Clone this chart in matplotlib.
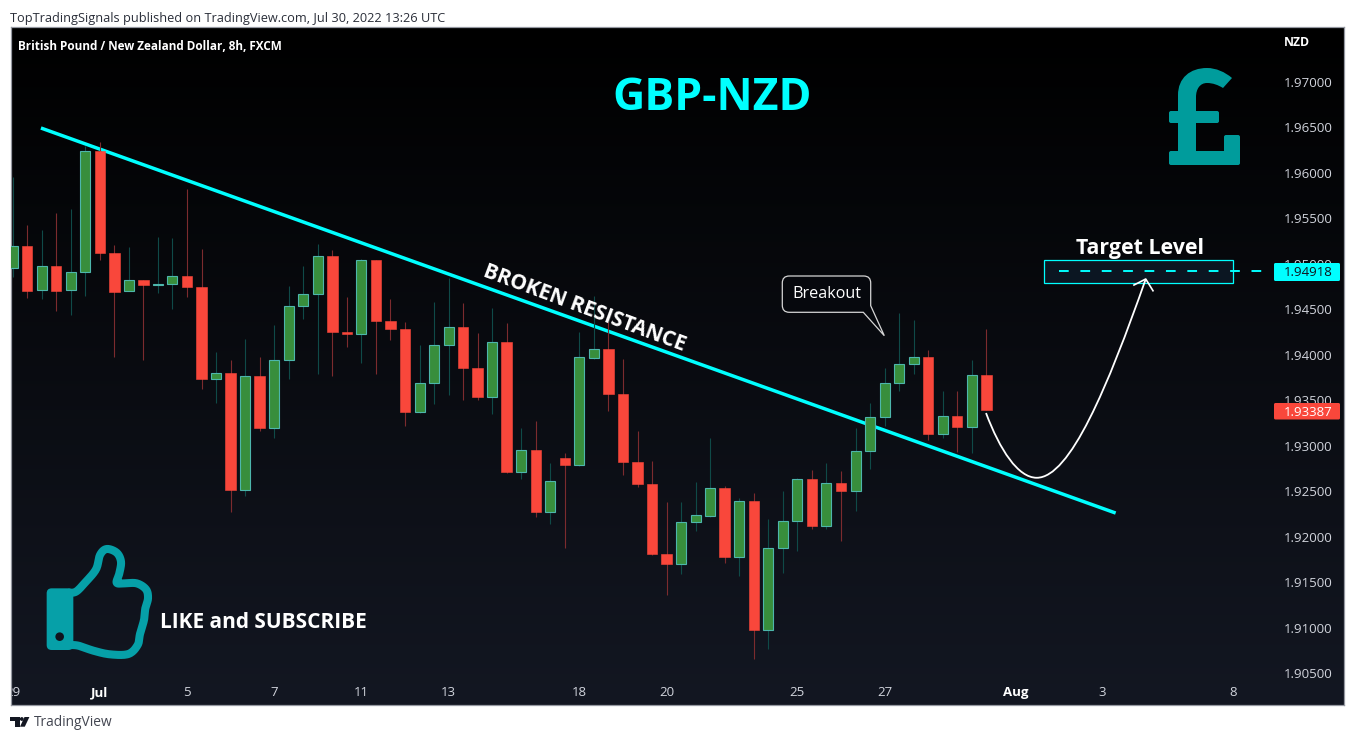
import numpy as np
import matplotlib
matplotlib.use("Agg")
import matplotlib.pyplot as plt
from matplotlib.path import Path
from matplotlib.patches import PathPatch, Rectangle, Circle, FancyBboxPatch
from matplotlib.colors import LinearSegmentedColormap
from matplotlib.transforms import Affine2D

# ---- candle data: GBP/NZD 8h (open, high, low, close) ----
opens = [1.94951,1.95193,1.94709,1.94973,1.94709,1.94907,1.96238,1.95122,1.94698,1.94819,1.94770,1.94775,1.94863,1.94748,
         1.93730,1.93796,1.92509,1.93763,1.93197,1.93939,1.94533,1.94665,1.95083,1.94253,1.94231,1.95039,1.94374,1.94286,
         1.93373,1.93686,1.94104,1.94302,1.93857,1.93538,1.94137,1.92713,1.92949,1.92273,1.92861,1.92790,1.93967,1.94060,
         1.93571,1.92823,1.92581,1.91811,1.91701,1.92157,1.92229,1.92531,1.91778,1.92388,1.90975,1.91871,1.92168,1.92630,
         1.92119,1.92586,1.92504,1.92938,1.93312,1.93686,1.93901,1.93972,1.93131,1.93323,1.93208,1.93774]
closes = [1.95193,1.94704,1.94973,1.94704,1.94907,1.96238,1.95122,1.94693,1.94819,1.94770,1.94778,1.94863,1.94748,1.93730,
          1.93796,1.92509,1.93763,1.93197,1.93939,1.94533,1.94665,1.95083,1.94253,1.94231,1.95039,1.94374,1.94286,1.93373,
          1.93686,1.94104,1.94302,1.93857,1.93538,1.94137,1.92713,1.92949,1.92273,1.92608,1.92790,1.93972,1.94060,1.93571,
          1.92823,1.92581,1.91811,1.91701,1.92157,1.92234,1.92531,1.91778,1.92388,1.90975,1.91871,1.92168,1.92630,1.92119,
          1.92586,1.92504,1.92938,1.93312,1.93686,1.93901,1.93972,1.93131,1.93323,1.93208,1.93774,1.93387]
highs = [1.95958,1.95427,1.95372,1.95559,1.95603,1.96296,1.96340,1.95207,1.95185,1.94825,1.95295,1.95284,1.95823,1.95163,
         1.94030,1.93942,1.94173,1.93975,1.94327,1.94756,1.94976,1.95218,1.95152,1.94635,1.95053,1.95039,1.94613,1.94360,
         1.94107,1.94580,1.94847,1.94569,1.94239,1.94514,1.94349,1.93194,1.93271,1.92809,1.92919,1.94250,1.94646,1.94360,
         1.93953,1.93161,1.92831,1.92380,1.92380,1.92600,1.93084,1.92556,1.92424,1.92479,1.92193,1.92501,1.92644,1.92732,
         1.92809,1.92721,1.93194,1.93469,1.93854,1.94459,1.94382,1.94052,1.93601,1.93601,1.93942,1.94283]
lows = [1.94858,1.94627,1.94613,1.94484,1.94440,1.94649,1.95045,1.93978,1.94698,1.93945,1.94682,1.94506,1.94638,1.93626,
        1.93472,1.92273,1.92449,1.93161,1.93087,1.93736,1.94396,1.93791,1.93769,1.94088,1.93912,1.93791,1.94165,1.93219,
        1.93362,1.93461,1.93560,1.93505,1.93505,1.93351,1.92699,1.92636,1.92218,1.92141,1.91877,1.92779,1.93956,1.93381,
        1.92677,1.92545,1.91797,1.91357,1.91588,1.92064,1.92218,1.91712,1.91569,1.90653,1.90766,1.91602,1.91844,1.92083,
        1.92086,1.91954,1.92284,1.92746,1.93219,1.93604,1.93791,1.93065,1.93087,1.92933,1.92922,1.93387]

y_ticks = [1.905,1.91,1.915,1.92,1.925,1.93,1.935,1.94,1.945,1.95,1.955,1.96,1.965,1.97]
x_tick_bars = [0,6,12,18,24,30,39,45,54,60,69,75,84]
x_tick_labels = ["29","Jul","5","7","11","13","18","20","25","27","Aug","3","8"]

last_close = 1.93387
target_price = 1.94918
trend_bars = [1.95, 75.9]
trend_prices = [1.96494, 1.92259]
target_box_bars = [71.0, 83.97]
target_box_prices = [1.94789, 1.95047]
target_line_bars = [72.0, 86.3]
arrow_bars = [66.98, 67.94, 69.18, 70.47, 72.76, 75.35, 77.97]
arrow_prices = [1.93359, 1.92952, 1.92647, 1.92647, 1.92647, 1.93645, 1.94833]
head_bars = [77.16, 77.97, 78.47]
head_prices = [1.94767, 1.94833, 1.94704]

W, H = 1354, 740
BAR_PX = 14.533
GREEN, GREEN_EDGE, GREEN_WICK = "#388e3c", "#4db6ac", "#0f4a48"
RED, RED_WICK = "#f9473b", "#7c2b2e"
CYAN = "#00ffff"
TEAL = "#009c9c"
TICK = "#d1d4dc"
FONT = "Open Sans"

plt.rcParams["font.family"] = [FONT, "DejaVu Sans"]
fig = plt.figure(figsize=(W/100, H/100), dpi=100, facecolor="white")
L, R, T, B = 11, 1344, 27, 705
ax = fig.add_axes([L/W, 1-B/H, (R-L)/W, (B-T)/H])

px = Affine2D().scale(1/W, -1/H).translate(0, 1) + fig.transFigure

def ptext(x, y, s, **kw):
    kw.setdefault("va", "center")
    return fig.text(x/W, 1-y/H, s, **kw)

# background gradient
cmap = LinearSegmentedColormap.from_list("bg", ["#000000", "#131722"])
ax.imshow(np.linspace(0, 1, 256).reshape(-1, 1), cmap=cmap, aspect="auto",
          extent=(0, 1, 0, 1), transform=ax.transAxes, zorder=0)
ax.set_xlim((L-12.6)/BAR_PX, (R-12.6)/BAR_PX)
ax.set_ylim(1.97-(B-82)/9092, 1.97+(82-T)/9092)

# trend line behind candles
ax.plot(trend_bars, trend_prices, color=CYAN, lw=2.5, solid_capstyle="butt", zorder=2)

o, c, h, l = map(np.array, (opens, closes, highs, lows))
xs = np.arange(len(o))
up = c >= o
ax.vlines(xs[up], l[up], h[up], color=GREEN_WICK, lw=0.8, zorder=3)
ax.vlines(xs[~up], l[~up], h[~up], color=RED_WICK, lw=0.8, zorder=3)
ax.bar(xs[up], (c-o)[up], bottom=o[up], width=0.69, color=GREEN, edgecolor=GREEN_EDGE, linewidth=0.8, zorder=4)
ax.bar(xs[~up], (c-o)[~up], bottom=o[~up], width=0.72, color=RED, edgecolor=RED, linewidth=0.4, zorder=4)

# target box
ax.add_patch(Rectangle((target_box_bars[0], target_box_prices[0]),
                       target_box_bars[1]-target_box_bars[0], target_box_prices[1]-target_box_prices[0],
                       facecolor="#0b1622", edgecolor=CYAN, lw=0.9, zorder=5))
ax.plot(target_line_bars, [target_price]*2, color=CYAN, lw=1.4, dashes=(5, 6.0), zorder=6)

# curved arrow
verts = list(zip(arrow_bars, arrow_prices))
ax.add_patch(PathPatch(Path(verts, [Path.MOVETO]+[Path.CURVE4]*6), facecolor="none", edgecolor="white", lw=1.3, zorder=6))
ax.plot(head_bars, head_prices, color="white", lw=1.2, zorder=7)

# axes
ax.set_yticks(y_ticks, [f"{v:.5f}" for v in y_ticks])
ax.yaxis.tick_right()
ax.tick_params(axis="y", length=0, pad=-8, labelsize=9.5, labelcolor=TICK)
for t in ax.yaxis.get_major_ticks():
    t.label2.set_ha("right")
ax.set_xticks(x_tick_bars, x_tick_labels)
ax.tick_params(axis="x", length=0, pad=-13.6, labelsize=9.5, labelcolor=TICK)
for lab in ax.get_xticklabels():
    lab.set_clip_on(True)
    lab.set_clip_box(ax.bbox)
    if lab.get_text() in ("Jul", "Aug"):
        lab.set_fontweight("bold")
        lab.set_color("white")
for s in ax.spines.values():
    s.set_color("#9598a1")
    s.set_linewidth(0.9)

# price labels on the scale
for y0, y1, col in [(263, 281, CYAN), (403, 419.5, RED)]:
    fig.add_artist(FancyBboxPatch((1274, y0), 66, y1-y0, boxstyle="round,pad=0,rounding_size=1.5",
                                  transform=px, facecolor=col, edgecolor="none", zorder=6))
ptext(1333, 273, f"{target_price:.5f}", ha="right", color="#10131d", fontsize=9.5, zorder=7)
ptext(1333, 412, f"{last_close:.5f}", ha="right", color="white", fontsize=9.5, zorder=7)

# texts
ptext(10, 18.3, "TopTradingSignals published on TradingView.com, Jul 30, 2022 13:26 UTC", color="#2a2e39", fontsize=9.15)
ptext(18, 46.5, "British Pound / New Zealand Dollar, 8h, FXCM", color="white", fontsize=8.45, fontweight="bold")
ptext(1284, 42.5, "NZD", color="white", fontsize=8.8, fontweight="bold")
ptext(712, 99, "GBP-NZD", color=CYAN, fontsize=32, fontweight="bold", ha="center")
ptext(1140, 248.5, "Target Level", color="white", fontsize=15.4, fontweight="bold", ha="center")
ptext(263, 623, "LIKE and SUBSCRIBE", color="white", fontsize=15, fontweight="bold", ha="center")
ptext(584, 308, "BROKEN RESISTANCE", color="white", fontsize=15, fontweight="bold", ha="center",
      rotation=-20.5, rotation_mode="anchor")
ptext(827, 294.5, "Breakout", color="white", fontsize=11.6, ha="center", zorder=6)

# callout
rl, rr, rt, rb, r = 782.3, 870.7, 276, 312.3, 7
call_v = [(rl+r, rt), (rr-r, rt), (rr, rt), (rr, rt+r), (rr, 305.7), (884.3, 335.7), (863.3, rb),
          (rl+r, rb), (rl, rb), (rl, rb-r), (rl, rt+r), (rl, rt), (rl+r, rt)]
call_c = [Path.MOVETO, Path.LINETO, Path.CURVE3, Path.CURVE3, Path.LINETO, Path.LINETO, Path.LINETO,
          Path.LINETO, Path.CURVE3, Path.CURVE3, Path.LINETO, Path.CURVE3, Path.CURVE3]
fig.add_artist(PathPatch(Path(call_v, call_c), transform=px, facecolor="#06080d", edgecolor="#d5d5d5", lw=0.9, zorder=5))

# pound icon
pv = [(1178,151),(1178,95),(1178,78),(1190,68),(1207,68),(1216,68),(1225,72),(1232,78),(1223,88),
      (1218,85),(1213,83),(1207,83),(1200,83),(1196,89),(1196,97),(1196,151),(1178,151)]
pc = [Path.MOVETO,Path.LINETO,Path.CURVE4,Path.CURVE4,Path.CURVE4,Path.CURVE4,Path.CURVE4,Path.CURVE4,Path.LINETO,
      Path.CURVE4,Path.CURVE4,Path.CURVE4,Path.CURVE4,Path.CURVE4,Path.CURVE4,Path.LINETO,Path.CLOSEPOLY]
fig.add_artist(PathPatch(Path(pv, pc), transform=px, facecolor=TEAL, edgecolor="none", zorder=4))
for x, y, w, hh in [(1169,151,71,14),(1224,135,16,20),(1169,111,50,12)]:
    fig.add_artist(FancyBboxPatch((x, y), w, hh, boxstyle="round,pad=0,rounding_size=2", transform=px,
                                  facecolor=TEAL, edgecolor="none", zorder=4))

# thumb icon (zoom-crop coordinates converted to pixels)
def catmull(pts, n=12):
    p = np.array(pts, float)
    p = np.vstack([p[0], p, p[-1]])
    out = []
    for i in range(1, len(p)-2):
        for t in np.linspace(0, 1, n, endpoint=False):
            out.append(0.5*((2*p[i]) + (-p[i-1]+p[i+1])*t + (2*p[i-1]-5*p[i]+4*p[i+1]-p[i+2])*t**2
                            + (-p[i-1]+3*p[i]-3*p[i+1]+p[i+2])*t**3))
    out.append(p[-2])
    return np.array(out)

thumb_z = [(205,188),(228,185),(255,158),(288,118),(300,75),(320,57),(350,68),(363,95),(358,130),(350,158),(372,160),(410,160),
           (438,178),(444,205),(436,235),(432,270),(420,312),(413,345),(385,372),(330,373),(280,362),(235,347),(205,345)]
tz = catmull(thumb_z)
tp = np.column_stack([tz[:, 0]/3, 530+tz[:, 1]/3])
THUMB = "#06a0a8"
fig.add_artist(plt.Line2D(tp[:, 0], tp[:, 1], transform=px, color=THUMB, lw=5.8, zorder=4, solid_capstyle="butt"))
fig.add_artist(FancyBboxPatch((140/3, 530+175/3), 80/3, 185/3, boxstyle="round,pad=0,rounding_size=5", transform=px,
                              facecolor=THUMB, edgecolor="none", zorder=4))
fig.add_artist(Circle((179/3, 530+320/3), 4.3, transform=px, facecolor="#10131d", edgecolor="none", zorder=5))

# TradingView logo
LOGO = "#131722"
fig.add_artist(PathPatch(Path([(10,717),(19.5,717),(19.5,726.7),(15.3,726.7),(15.3,721.3),(10,721.3),(10,717)]),
                         transform=px, facecolor=LOGO, edgecolor="none"))
fig.add_artist(Circle((21.8, 719), 1.9, transform=px, facecolor=LOGO, edgecolor="none"))
fig.add_artist(PathPatch(Path([(24.5,717),(29.4,717),(24.8,726.7),(20,726.7),(24.5,717)]),
                         transform=px, facecolor=LOGO, edgecolor="none"))
ptext(34, 723, "TradingView", color="#434651", fontsize=9.9)

fig.savefig("out.png", dpi=100, facecolor="white")
